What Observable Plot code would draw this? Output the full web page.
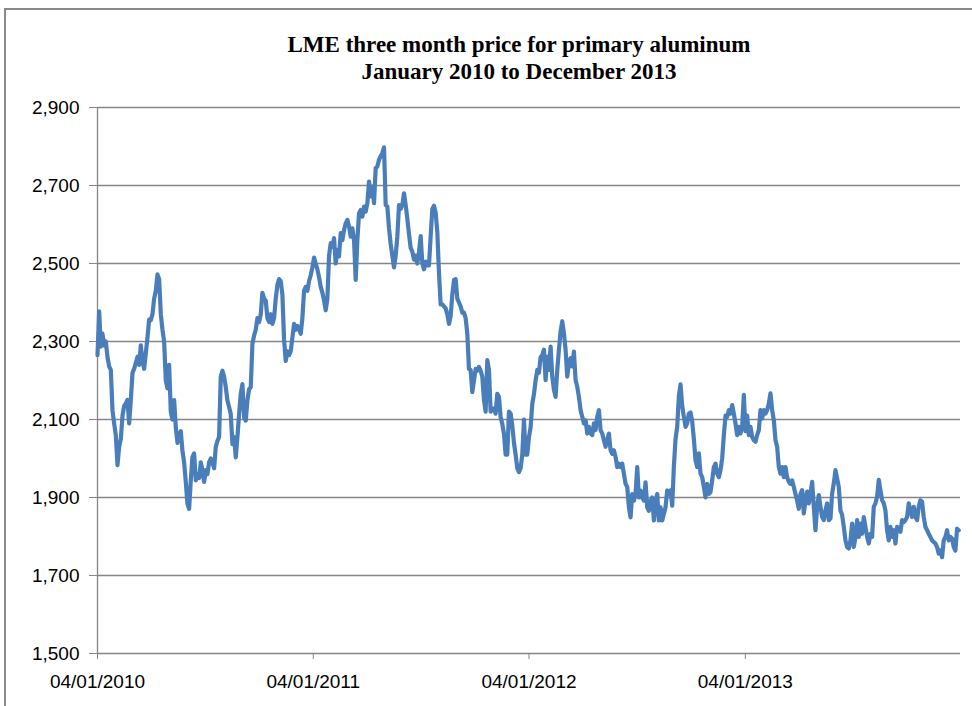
<!DOCTYPE html>
<html><head><meta charset="utf-8">
<script src="https://cdn.jsdelivr.net/npm/d3@7"></script>
<script src="https://cdn.jsdelivr.net/npm/@observablehq/plot@0.6"></script>
<style>
html,body{margin:0;padding:0;background:#fff;overflow:hidden;}
#frame{position:absolute;left:4px;top:8px;width:990px;height:720px;border-left:2px solid #8a8a8a;border-top:2px solid #8a8a8a;z-index:10;pointer-events:none;}
#title{position:relative;width:972px;height:92px;box-sizing:border-box;padding-top:31px;padding-left:66px;text-align:center;font-family:"Liberation Serif","Times New Roman",serif;font-weight:bold;font-size:23px;line-height:27px;color:#000;}
#chart{position:relative;}
</style></head>
<body>
<div id="frame"></div>
<div id="title">LME three month price for primary aluminum<br>January 2010 to December 2013</div>
<div id="chart"></div>
<script>
const prices2010 = [2265,2377,2287,2320,2290,2300,2260,2236,2227,2124,
2090,2060,1983,2030,2050,2110,2135,2141,2150,2090,
2150,2219,2230,2245,2261,2240,2290,2249,2230,2270,
2310,2356,2355,2370,2410,2430,2472,2460,2370,2330,
2300,2200,2180,2240,2120,2100,2150,2080,2040,2060,
2070,2020,1990,1940,1884,1871,1944,2004,2013,1944,
1960,1950,1990,1970,1940,1970,1960,1990,2000,1990,
1975,2030,2045,2056,2210,2225,2210,2183,2149,2132,
2114,2037,2055,2003,2055,2114,2166,2191,2106,2097,
2149,2178,2183,2294,2315,
2330,2360,2350,2370,2425,2410,2405,2360,2350,2370,
2345,2360,2410,2445,2460,2455,2420,2304,2250,2275,
2265,2275,2310,2345,2330,2340,2330,2320,2360,2430,
2440,2430,2455,2470,2490];
const prices2011 = [2515,2500,2485,2465,2440,2425,2405,2380,2410,2520,
2552,2543,2565,2500,2535,2518,2578,2560,2586,2603,
2612,2595,2569,2590,2560,2458,2560,2629,2637,2620,
2646,2633,2655,2710,2672,2697,2655,2745,2749,2766,2775,
2783,2798,2650,2646,2590,2550,2520,2490,2520,2570,
2650,2640,2650,2680,2650,2615,2575,2540,2530,2510,
2520,2500,2530,2570,2500,2485,2505,2495,2495,2570,
2640,2648,2630,2580,2475,2395,2395,2390,2385,2370,
2345,2365,2420,2458,2460,2410,2400,2390,2374,2374,
2360,2320,2230,2227,2170,2200,2230,2225,2235,2225,
2210,2150,2120,2252,2227,2120,2128,2128,2115,2166,
2158,2106,2089,2063,2010,2010,2120,2115,2085,2040,
2010,1975,1965,
1975,2010,2100,2010,2010];
const prices2012 = [2055,2080,2140,2165,2200,2227,2220,2260,2265,2279,
2201,2261,2227,2287,2210,2176,2158,2227,2279,2326,
2352,2321,2279,2210,2244,2257,2236,2274,2201,2184,
2158,2124,2107,2090,2098,2064,2081,2064,2060,2090,
2073,2107,2124,2073,2064,2047,2030,2047,2064,2021,
2012,2021,2004,1978,1987,1978,1987,1961,1935,1927,
1875,1849,1909,1892,1909,1978,1900,1918,1900,1892,
1939,1875,1866,1892,1900,1841,1892,1909,1841,1875,
1841,1858,1875,1918,1909,1918,1879,1980,2050,2081,
2160,2190,2135,2107,2081,2090,2115,2118,2095,2050,
1995,1978,2013,1961,1952,1927,1900,1935,1909,1914,
1944,1978,1987,1961,1952,1970,2000,2060,2110,2107,
2124,2115,2137,2115,2090,2060,2081,2064,2081,2163];
const prices2013 = [2070,2110,2060,2081,2055,2047,2043,2060,2073,2124,
2103,2124,2115,2124,2141,2167,2124,2098,2047,2030,
1978,1961,1978,1952,1978,1952,1940,1935,1944,1927,
1909,1892,1871,1909,
1919,1859,1893,1915,1885,1910,1940,1876,1816,1876,
1906,1876,1850,1842,1867,1885,1842,1846,1910,1936,
1970,1949,1927,1867,1855,1825,1790,1773,1769,1790,
1833,1773,1799,1842,1799,1833,1807,1850,1825,1799,
1782,1807,1799,1876,1885,1902,1945,1919,1893,1885,
1867,1816,1790,1825,1799,1816,1782,1825,1816,1812,
1842,1837,1842,1850,1885,1867,1850,1876,1850,1842,
1876,1893,1889,1850,1825,1816,1807,1799,1790,1786,
1782,1773,1756,1764,1747,1790,1799,1816,1790,1799,
1795,1773,1764,1820,1816];
const firstDate = "04/01/2010";
const lastDate = "31/12/2013";
const xTickLabels = ["04/01/2010","04/01/2011","04/01/2012","04/01/2013"];
const yTicks = [1500,1700,1900,2100,2300,2500,2700,2900];

const parse = d3.timeParse("%d/%m/%Y");
const values = [...prices2010, ...prices2011, ...prices2012, ...prices2013];
const t0 = parse(firstDate), t1 = parse(lastDate);
const n = values.length;
const data = values.map((v, i) => ({date: new Date(+t0 + i * (t1 - t0) / (n - 1)), price: v}));
const xTicks = xTickLabels.map(parse);
const gray = "#868686";

const chart = Plot.plot({
  width: 972, height: 614,
  marginTop: 15, marginBottom: 53, marginLeft: 97, marginRight: 12,
  style: {fontFamily: "'Liberation Sans', Arial, sans-serif", fontSize: "19px", color: "#000", background: "transparent"},
  x: {type: "time", domain: [t0, d3.timeDay.offset(t1, 3)]},
  y: {domain: [yTicks[0], yTicks[yTicks.length - 1]]},
  marks: [
    Plot.gridY(yTicks.slice(1), {stroke: gray, strokeOpacity: 1, strokeWidth: 1.3}),
    Plot.ruleY([yTicks[0]], {stroke: gray, strokeWidth: 1.3}),
    Plot.ruleX([t0], {stroke: gray, strokeWidth: 1.3}),
    Plot.axisY({ticks: yTicks, tickFormat: d3.format(","), tickSize: 8, tickPadding: 10, stroke: gray, label: null}),
    Plot.axisX({ticks: xTicks, tickFormat: (d, i) => xTickLabels[i], tickSize: 6, tickPadding: 15, stroke: gray, label: null}),
    Plot.line(data, {x: "date", y: "price", stroke: "#4a7ebb", strokeWidth: 4.2, strokeLinejoin: "round", strokeLinecap: "round"})
  ]
});
document.getElementById("chart").appendChild(chart);
</script>
</body></html>
